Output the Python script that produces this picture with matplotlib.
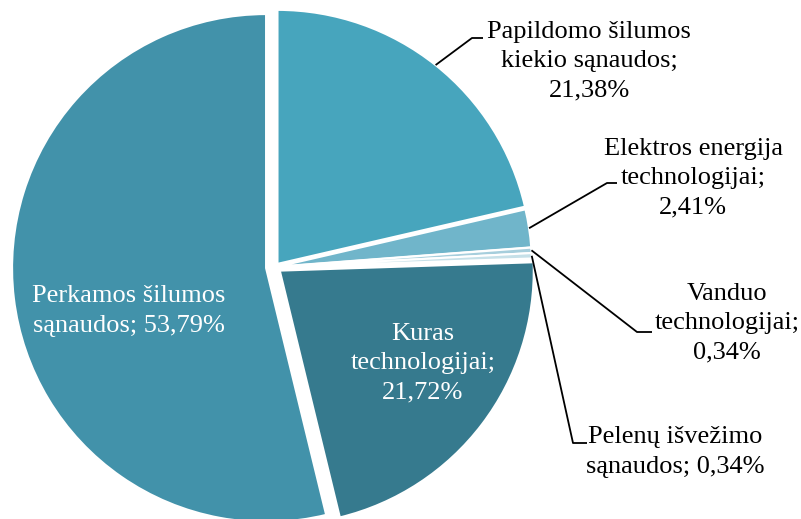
import matplotlib.pyplot as plt
import numpy as np

# slice data (clockwise from 12 o'clock)
labels = [
    "Papildomo šilumos\nkiekio sąnaudos;\n21,38%",
    "Elektros energija\ntechnologijai;\n2,41%",
    "Vanduo\ntechnologijai;\n0,34%",
    "Pelenų išvežimo\nsąnaudos; 0,34%",
    "Kuras\ntechnologijai;\n21,72%",
    "Perkamos šilumos\nsąnaudos; 53,79%",
]
shares = [21.38, 2.41, 0.34, 0.34, 21.72, 53.79]
colors = ["#47a5bd", "#70b5ca", "#a6cedc", "#c6e0e8", "#367a8e", "#4292aa"]

W, H = 801, 519
CENTER = (275, 252)
RADIUS = 254
explode = [4, 3, 3, 3, 6, 9]

# label layout in image pixels: (text x, text y, elbow x, elbow y, end x)
outside = {
    0: (589, 61, 472, 38, 483),
    1: (693, 178, 607, 183, 617),
    2: (727, 323, 637, 332, 652),
    3: (675, 452, 573, 443, 587),
}
inside = {
    4: (423, 363),
    5: (129, 311),
}

plt.rcParams['font.family'] = ['Liberation Serif', 'DejaVu Serif']

fig = plt.figure(figsize=(W / 100, H / 100), dpi=100)
ax = fig.add_axes([0, 0, 1, 1])

wedges, _ = ax.pie(shares, colors=colors, startangle=90, counterclock=False,
                   explode=explode, radius=RADIUS, center=CENTER,
                   wedgeprops=dict(edgecolor='white', linewidth=1.5))

ax.set_xlim(0, W)
ax.set_ylim(0, H)
ax.set_aspect('equal')
ax.axis('off')


def up(y):
    return H - y


for i, (tx, ty, ex, ey, end_x) in outside.items():
    w = wedges[i]
    mid = np.deg2rad((w.theta1 + w.theta2) / 2)
    sx = w.center[0] + w.r * np.cos(mid)
    sy = w.center[1] + w.r * np.sin(mid)
    ax.plot([sx, ex, end_x], [sy, up(ey), up(ey)], color='black', lw=1.3,
            solid_capstyle='butt')
    ax.text(tx, up(ty), labels[i], ha='center', va='center',
            multialignment='center', fontsize=19, color='black',
            linespacing=1.42)

for i, (tx, ty) in inside.items():
    ax.text(tx, up(ty), labels[i], ha='center', va='center',
            multialignment='center', fontsize=19, color='white',
            linespacing=1.42)

fig.savefig('out.png', dpi=100)
